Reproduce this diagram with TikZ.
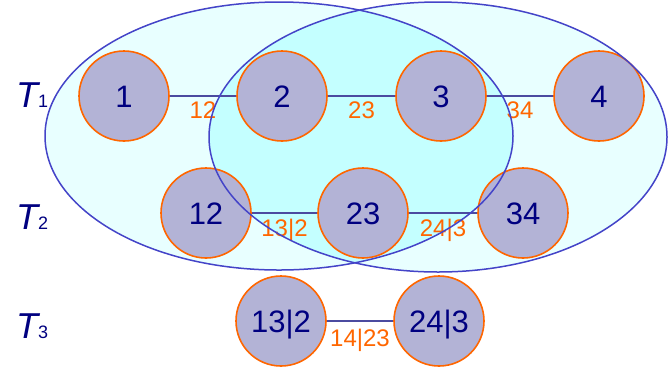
\documentclass[tikz,border=0pt]{standalone}
\usepackage{fontspec}
\setmainfont{Liberation Sans}
\definecolor{navy}{RGB}{0,0,128}
\definecolor{orng}{RGB}{255,102,0}
\definecolor{lav}{RGB}{179,179,214}
\definecolor{ellline}{RGB}{68,68,200}
\definecolor{lightcy}{RGB}{232,255,255}
\definecolor{darkcy}{RGB}{196,255,255}
\definecolor{edgec}{RGB}{75,75,160}
\begin{document}
\begin{tikzpicture}[x=1pt,y=-1pt,
  vnode/.style={circle, draw=orng, line width=1.6pt, fill=lav, minimum size=90pt, inner sep=0pt,
    text=navy, font=\fontsize{31}{31}\selectfont, text height=22.2pt, text depth=0pt},
  elab/.style={text=orng, font=\fontsize{24}{24}\selectfont, inner sep=0pt, text height=17.2pt, text depth=0pt},
  link/.style={draw=edgec, line width=1.1pt},
  tlab/.style={text=navy, anchor=base west, inner sep=0pt, font=\fontsize{36}{36}\selectfont},
  ellb/.style={draw=ellline, line width=1.5pt}]
\useasboundingbox (0,0) rectangle (668,373);
% ellipse fills
\fill[lightcy] (279,136) ellipse [x radius=234pt, y radius=134pt];
\fill[lightcy] (438,137) ellipse [x radius=229pt, y radius=135pt];
\begin{scope}
  \clip (279,136) ellipse [x radius=234pt, y radius=134pt];
  \fill[darkcy] (438,137) ellipse [x radius=229pt, y radius=135pt];
\end{scope}
% row labels
\node[tlab] (t1) at (16,107) {{\itshape T}{\fontsize{18}{18}\selectfont 1}};
\node[tlab] (t2) at (16,229) {{\itshape T}{\fontsize{18}{18}\selectfont 2}};
\node[tlab] (t3) at (16,338) {{\itshape T}{\fontsize{18}{18}\selectfont 3}};
% nodes
\node[vnode] (n1) at (124,96) {1};
\node[vnode] (n2) at (282,96) {2};
\node[vnode] (n3) at (441,96) {3};
\node[vnode] (n4) at (599,96) {4};
\node[vnode] (n12) at (206,213) {12};
\node[vnode] (n23) at (363,213) {23};
\node[vnode] (n34) at (523,213) {34};
\node[vnode] (n132) at (281,321) {13|2};
\node[vnode] (n243) at (439,321) {24|3};
% edges
\draw[link] (n1) -- (n2) node[elab, midway, yshift=-14pt] {12};
\draw[link] (n2) -- (n3) node[elab, midway, yshift=-14pt] {23};
\draw[link] (n3) -- (n4) node[elab, midway, yshift=-14pt] {34};
\draw[link] (n12) -- (n23) node[elab, midway, yshift=-15pt] {13|2};
\draw[link] (n23) -- (n34) node[elab, midway, yshift=-15pt] {24|3};
\draw[link] (n132) -- (n243) node[elab, midway, yshift=-17pt] {14|23};
% ellipse outlines
\draw[ellb] (279,136) ellipse [x radius=234pt, y radius=134pt];
\draw[ellb] (438,137) ellipse [x radius=229pt, y radius=135pt];
\end{tikzpicture}
\end{document}
